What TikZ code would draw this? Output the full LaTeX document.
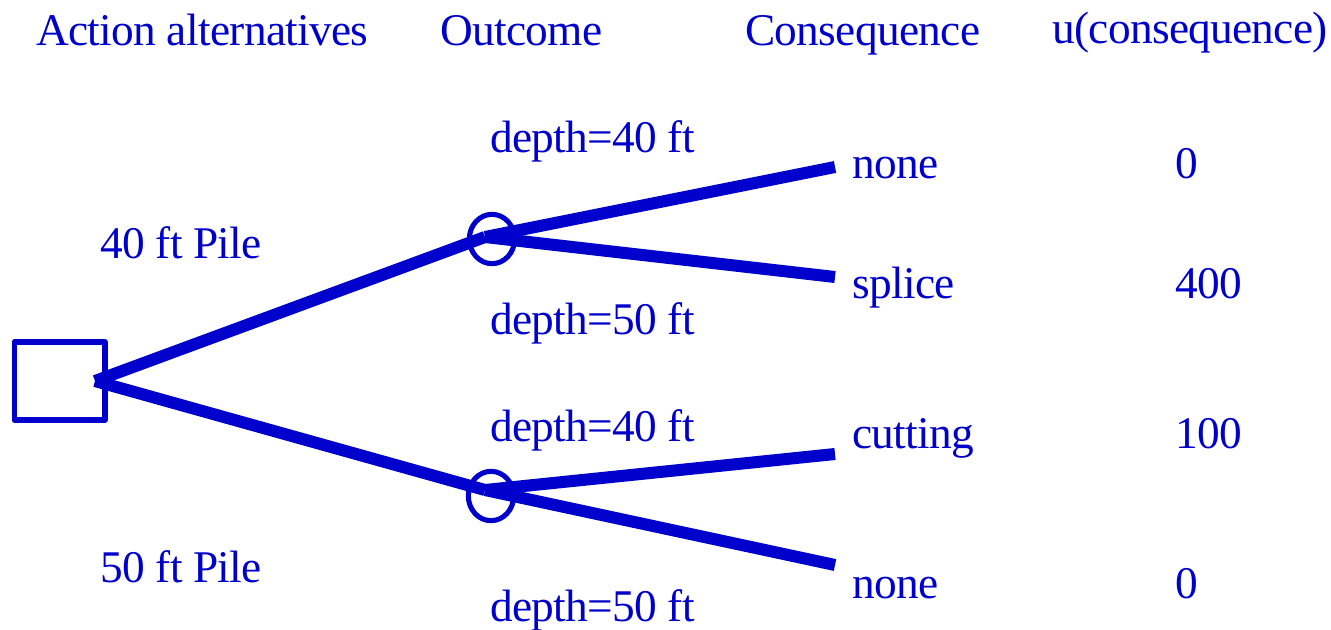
\documentclass[tikz,border=0pt]{standalone}
\usepackage{fontspec}
\setmainfont[LetterSpace=-1.5]{Liberation Serif}
\usetikzlibrary{shapes.geometric}
\definecolor{treeblue}{RGB}{0,0,204}

\begin{document}
\begin{tikzpicture}[
  x=0.75pt, y=-0.75pt,
  font=\fontsize{34}{40}\selectfont,
  lbl/.style={anchor=base west, inner sep=0pt, text=treeblue},
  decision/.style={rectangle, draw=treeblue, line width=4pt, line join=round,
                   minimum width=68pt, minimum height=58.5pt, inner sep=0pt},
  chance/.style={ellipse, draw=treeblue, line width=3.8pt,
                 minimum width=34pt, minimum height=37pt, inner sep=0pt},
  branch/.style={draw=treeblue, line width=9pt},
]
\useasboundingbox (0,0) rectangle (1331,629);

% ---- column headings ----
\node[lbl] (hact) at (36,45) {Action alternatives};
\node[lbl] (hout) at (440,45) {Outcome};
\node[lbl] (hcon) at (745,45) {Consequence};
\node[lbl] (hutil) at (1052,43) {u(consequence)};

% ---- decision and chance nodes ----
\node[decision] (act) at (59.5,381) {};
\node[chance] (ch1) at (492,239) {};
\node[chance] (ch2) at (491,496) {};

% ---- junction and end points of the branches ----
\coordinate (root) at (95,381);
\coordinate (j1) at (485,237);
\coordinate (j2) at (485,490);
\coordinate (e1) at (835,167);
\coordinate (e2) at (835,277);
\coordinate (e3) at (835,454);
\coordinate (e4) at (835,565);

% ---- branches ----
\draw[branch] (root) -- (j1);
\draw[branch] (root) -- (j2);
\draw[branch] (j1) -- (e1);
\draw[branch] (j1) -- (e2);
\draw[branch] (j2) -- (e3);
\draw[branch] (j2) -- (e4);

% ---- action labels ----
\node[lbl] (pile40) at (100,258) {40 ft Pile};
\node[lbl] (pile50) at (100,582) {50 ft Pile};

% ---- outcome labels ----
\node[lbl] (d1) at (490,152) {depth=40 ft};
\node[lbl] (d2) at (490,334) {depth=50 ft};
\node[lbl] (d3) at (490,441) {depth=40 ft};
\node[lbl] (d4) at (490,621) {depth=50 ft};

% ---- consequences and utilities ----
\node[lbl] (cq1) at (852,178) {none};
\node[lbl] (cq2) at (852,298) {splice};
\node[lbl] (cq3) at (852,448) {cutting};
\node[lbl] (cq4) at (852,598) {none};
\node[lbl] (u1) at (1175,178) {0};
\node[lbl] (u2) at (1175,298) {400};
\node[lbl] (u3) at (1175,448) {100};
\node[lbl] (u4) at (1175,598) {0};

\end{tikzpicture}
\end{document}
